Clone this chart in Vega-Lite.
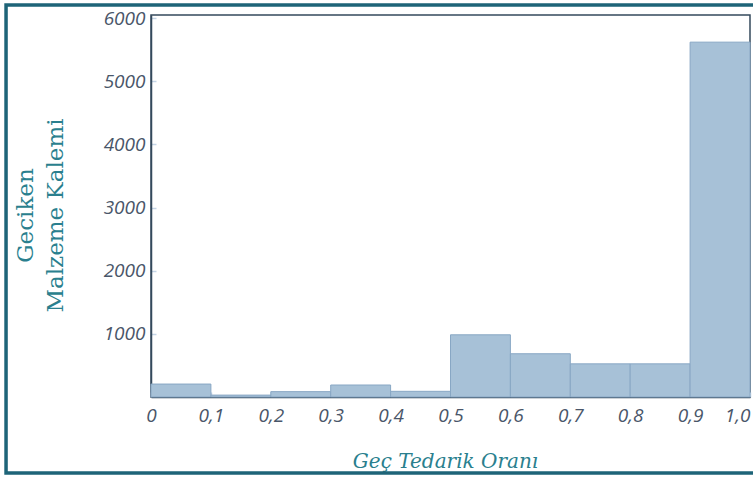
{
  "$schema": "https://vega.github.io/schema/vega-lite/v6.json",
  "width": 599,
  "height": 382,
  "autosize": {"type": "none"},
  "padding": {"left": 151, "top": 15, "right": 3, "bottom": 82},
  "background": "white",
  "config": {"view": {"stroke": "#34495c", "strokeWidth": 1.5}},
  "layer": [
    {
      "data": {"values": [
        {"start": 0.0, "end": 0.1, "count": 205},
        {"start": 0.1, "end": 0.2, "count": 30},
        {"start": 0.2, "end": 0.3, "count": 85},
        {"start": 0.3, "end": 0.4, "count": 190},
        {"start": 0.4, "end": 0.5, "count": 90},
        {"start": 0.5, "end": 0.6, "count": 985},
        {"start": 0.6, "end": 0.7, "count": 685},
        {"start": 0.7, "end": 0.8, "count": 525},
        {"start": 0.8, "end": 0.9, "count": 525},
        {"start": 0.9, "end": 1.0, "count": 5620}
      ]},
      "mark": {"type": "rect", "fill": "#a7c1d7", "stroke": "#88a7c4", "strokeWidth": 1},
      "encoding": {
        "x": {
          "field": "start", "type": "quantitative",
          "scale": {"domain": [0, 1], "nice": false, "zero": false},
          "axis": {
            "values": [0, 0.1, 0.2, 0.3, 0.4, 0.5, 0.6, 0.7, 0.8, 0.9, 1.0],
            "labelExpr": "datum.value == 0 ? '0' : replace(format(datum.value, '.1f'), '.', ',')",
            "labelFont": "Open Sans", "labelFontStyle": "italic", "labelFontSize": 19,
            "labelColor": "#4a5669", "labelPadding": 14, "labelFlush": false,
            "labelAlign": {"condition": {"test": "datum.value >= 1", "value": "right"}, "value": "center"},
            "tickColor": "#c5d5e6", "tickSize": -5, "tickWidth": 1.5,
            "domainColor": "#34495c", "domainWidth": 1.5, "grid": false,
            "title": "Geç Tedarik Oranı", "titleFont": "DejaVu Serif", "titleFontStyle": "italic",
            "titleFontWeight": "normal", "titleFontSize": 20, "titleColor": "#2a7f8e",
            "titlePadding": 26, "titleX": 294
          }
        },
        "x2": {"field": "end"},
        "y": {
          "field": "count", "type": "quantitative",
          "scale": {"domain": [0, 6050], "nice": false, "zero": false},
          "axis": {
            "values": [1000, 2000, 3000, 4000, 5000, 6000],
            "format": "d",
            "labelFont": "Open Sans", "labelFontStyle": "italic", "labelFontSize": 19,
            "labelColor": "#4a5669", "labelPadding": 11,
            "tickColor": "#c5d5e6", "tickSize": -5, "tickWidth": 1.5,
            "domainColor": "#34495c", "domainWidth": 1.5, "grid": false,
            "title": ["Geciken", "Malzeme Kalemi"], "titleFont": "DejaVu Serif",
            "titleFontWeight": "normal", "titleFontSize": 23, "titleColor": "#2a7f8e",
            "titleLineHeight": 30, "titlePadding": 36, "titleY": 200
          }
        },
        "y2": {"datum": 0}
      }
    },
    {
      "data": {"values": [{"x0": -0.242, "x1": 1.01, "y0": -1204, "y1": 6208}]},
      "mark": {"type": "rect", "filled": false, "stroke": "#1e6478", "strokeWidth": 3.5, "clip": false},
      "encoding": {
        "x": {"field": "x0", "type": "quantitative"},
        "x2": {"field": "x1"},
        "y": {"field": "y0", "type": "quantitative"},
        "y2": {"field": "y1"}
      }
    }
  ]
}
